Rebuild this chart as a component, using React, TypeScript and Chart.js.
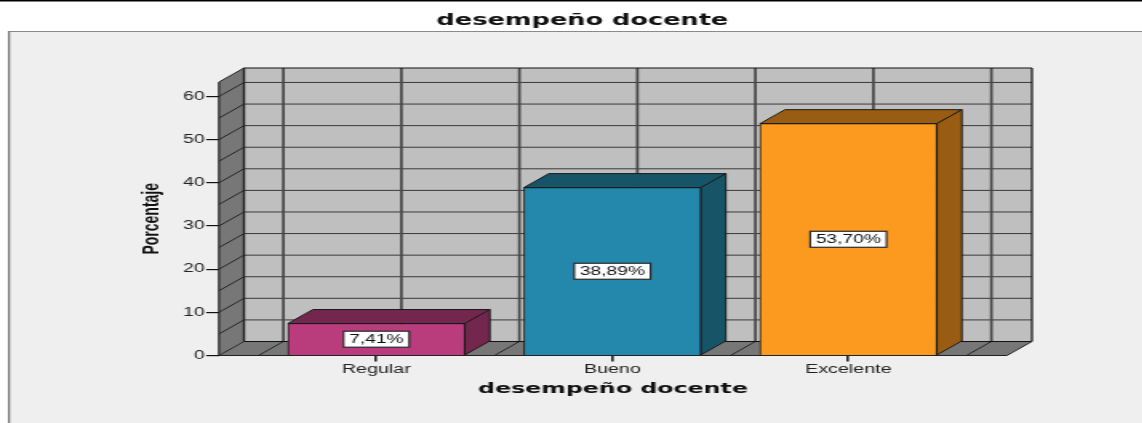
import React, { useEffect, useRef } from "react";
import { Chart, registerables } from "chart.js";

Chart.register(...registerables);

const categories = ["Regular", "Bueno", "Excelente"];
const percentages = [7.41, 38.89, 53.7];
const percentLabels = ["7,41%", "38,89%", "53,70%"];
const yTicks = [0, 10, 20, 30, 40, 50, 60];
const minorYLines = [0, 5, 10, 15, 20, 25, 30, 35, 40, 45, 50, 55, 60];
const xGridLines = [-0.5, 0, 0.5, 1, 1.5, 2, 2.5];
const frontColors = ["#b93d7c", "#2488ad", "#fb9a1e"];
const shadeColors = ["#73274f", "#165468", "#985c12"];
const titleText = "desempeño docente";

// The reference is a picture stretched sideways, so the canvas is drawn narrow and widened.
const STRETCH = 1.6;
const DEPTH_X = 25 / STRETCH;
const DEPTH_Y = 14;

function poly(ctx: CanvasRenderingContext2D, pts: number[][], fill: string | null, stroke: string | null, lw = 1) {
  ctx.beginPath();
  pts.forEach((p, i) => (i ? ctx.lineTo(p[0], p[1]) : ctx.moveTo(p[0], p[1])));
  ctx.closePath();
  if (fill) {
    ctx.fillStyle = fill;
    ctx.fill();
  }
  if (stroke) {
    ctx.strokeStyle = stroke;
    ctx.lineWidth = lw;
    ctx.stroke();
  }
}

function line(ctx: CanvasRenderingContext2D, x1: number, y1: number, x2: number, y2: number, color: string, lw: number) {
  ctx.beginPath();
  ctx.moveTo(x1, y1);
  ctx.lineTo(x2, y2);
  ctx.strokeStyle = color;
  ctx.lineWidth = lw;
  ctx.stroke();
}

const panelPlugin = {
  id: "panel",
  beforeDraw(chart: any) {
    const ctx = chart.ctx as CanvasRenderingContext2D;
    const { width, height } = chart;
    ctx.save();
    ctx.fillStyle = "#ffffff";
    ctx.fillRect(0, 0, width, height);
    ctx.fillStyle = "#000000";
    ctx.fillRect(0, 0, width, 1.5);
    ctx.fillStyle = "#efefef";
    ctx.fillRect(8 / STRETCH, 31, width, height);
    ctx.fillStyle = "#8a8a8a";
    ctx.fillRect(8 / STRETCH, 31, width, 1);
    ctx.fillStyle = "#777777";
    ctx.fillRect(8 / STRETCH, 31, 1.3, height);
    ctx.restore();
  },
};

const boxPlugin = {
  id: "box3d",
  beforeDatasetsDraw(chart: any) {
    const ctx = chart.ctx as CanvasRenderingContext2D;
    const x = chart.scales.x;
    const y = chart.scales.y;
    const l = x.left, r = x.right, t = y.top, b = y.bottom;
    const dx = DEPTH_X, dy = DEPTH_Y;
    ctx.save();
    // back wall
    poly(ctx, [[l + dx, t - dy], [r + dx, t - dy], [r + dx, b - dy], [l + dx, b - dy]], "#bfbfbf", null);
    // side wall and floor
    poly(ctx, [[l, b], [l + dx, b - dy], [l + dx, t - dy], [l, t]], "#777777", null);
    poly(ctx, [[l, b], [l + dx, b - dy], [r + dx, b - dy], [r, b]], "#777777", null);
    // gridlines on the walls
    minorYLines.forEach((v) => {
      const py = y.getPixelForValue(v);
      if (v > 0) line(ctx, l + dx, py - dy, r + dx, py - dy, "#3a3a3a", 1);
      if (v > 0) line(ctx, l, py, l + dx, py - dy, "#222222", 1);
    });
    xGridLines.forEach((v) => {
      const px = x.getPixelForValue(v);
      line(ctx, px + dx, t - dy, px + dx, b - dy, "#484848", 1.7);
      line(ctx, px, b, px + dx, b - dy, "#222222", 1);
    });
    // outlines
    line(ctx, l + dx, t - dy, r + dx, t - dy, "#111111", 1);
    line(ctx, r + dx, t - dy, r + dx, b - dy, "#111111", 1.2);
    line(ctx, l + dx, t - dy, l + dx, b - dy, "#222222", 1.4);
    line(ctx, l + dx, b - dy, r + dx, b - dy, "#111111", 1);
    line(ctx, l, b, l, t, "#222222", 1.2);
    line(ctx, l, t, l + dx, t - dy, "#222222", 1);
    line(ctx, l, b, l + dx, b - dy, "#222222", 1);
    line(ctx, r, b, r + dx, b - dy, "#222222", 1);
    line(ctx, l, b, r, b, "#222222", 1);
    // bar depth faces
    chart.getDatasetMeta(0).data.forEach((bar: any, i: number) => {
      const half = bar.width / 2;
      const x0 = bar.x - half, x1 = bar.x + half;
      const top = bar.y, base = bar.base;
      const shade = shadeColors[i];
      poly(ctx, [[x0, top], [x0 + dx, top - dy], [x1 + dx, top - dy], [x1, top]], shade, "#1a1a1a", 1);
      poly(ctx, [[x1, top], [x1 + dx, top - dy], [x1 + dx, base - dy], [x1, base]], shade, "#1a1a1a", 1);
    });
    ctx.restore();
  },
  afterDatasetsDraw(chart: any) {
    const ctx = chart.ctx as CanvasRenderingContext2D;
    ctx.save();
    ctx.font = "12px 'Liberation Sans'";
    ctx.textAlign = "center";
    ctx.textBaseline = "middle";
    chart.getDatasetMeta(0).data.forEach((bar: any, i: number) => {
      const cy = (bar.y + bar.base) / 2;
      const w = ctx.measureText(percentLabels[i]).width + 7;
      const h = 16;
      ctx.fillStyle = "#ffffff";
      ctx.fillRect(bar.x - w / 2, cy - h / 2, w, h);
      ctx.strokeStyle = "#2a2a2a";
      ctx.lineWidth = 1.2;
      ctx.strokeRect(bar.x - w / 2, cy - h / 2, w, h);
      ctx.fillStyle = "#111111";
      ctx.fillText(percentLabels[i], bar.x, cy + 0.5);
    });
    ctx.restore();
  },
};

export default function App() {
  const ref = useRef<HTMLCanvasElement>(null);
  useEffect(() => {
    if (!ref.current) return;
    const chart = new Chart(ref.current, {
      type: "bar",
      data: {
        datasets: [
          {
            data: percentages.map((v, i) => ({ x: i, y: v })),
            backgroundColor: frontColors,
            borderColor: "#1a1a1a",
            borderWidth: 1,
            barThickness: 177 / STRETCH,
            clip: false,
            yAxisID: "y",
          } as any,
        ],
      },
      options: {
        animation: false,
        responsive: false,
        devicePixelRatio: 1,
        layout: { padding: 0 },
        plugins: {
          legend: { display: false },
          tooltip: { enabled: false },
          title: {
            display: true,
            text: titleText,
            color: "#111111",
            font: { family: "'DejaVu Sans'", size: 16, weight: "bold", lineHeight: 1.2 },
            padding: { top: 11, bottom: 51.8 },
          },
        },
        scales: {
          x: {
            type: "linear",
            offset: false,
            min: -0.667,
            max: 2.672,
            afterBuildTicks: (s: any) => {
              s.ticks = categories.map((_, i) => ({ value: i }));
            },
            afterFit: (s: any) => {
              s.height = 67.5;
            },
            grid: { offset: false, drawOnChartArea: false, drawTicks: true, tickLength: 6, color: "#222222", lineWidth: 1.6 },
            border: { display: false },
            ticks: {
              autoSkip: false,
              maxRotation: 0,
              padding: 1,
              color: "#222222",
              font: { family: "'Liberation Sans'", size: 12.3 },
              callback: (v: any) => categories[v as number],
            },
            title: {
              display: true,
              text: titleText,
              color: "#111111",
              font: { family: "'DejaVu Sans'", size: 14.8, weight: "bold", lineHeight: 1.2 },
              padding: { top: 0, bottom: 24.6 },
            },
          },
          y: {
            type: "linear",
            min: 0,
            max: 63.35,
            afterBuildTicks: (s: any) => {
              s.ticks = yTicks.map((v) => ({ value: v }));
            },
            afterFit: (s: any) => {
              s.width = 219 / STRETCH;
            },
            grid: { drawOnChartArea: false, drawTicks: true, tickLength: 8, color: "#111111", lineWidth: 1.2 },
            border: { display: false },
            ticks: {
              padding: 1,
              color: "#222222",
              font: { family: "'Liberation Sans'", size: 12 },
            },
            title: {
              display: true,
              text: "Porcentaje",
              color: "#111111",
              font: { family: "'Liberation Sans'", size: 14, weight: "bold", lineHeight: 1.2 },
              padding: { top: 86.8, bottom: 0 },
            },
          },
          yRight: {
            type: "linear",
            position: "right",
            min: 0,
            max: 1,
            afterBuildTicks: (s: any) => {
              s.ticks = [];
            },
            afterFit: (s: any) => {
              s.width = 728 - 1007 / STRETCH;
            },
            grid: { display: false },
            border: { display: false },
            ticks: { display: false },
          },
        },
      } as any,
      plugins: [panelPlugin, boxPlugin],
    });
    return () => chart.destroy();
  }, []);
  return (
    <div style={{ position: "fixed", left: 0, top: 0, width: 1142, height: 423, overflow: "hidden" }}>
      <div style={{ width: 728, height: 423, transform: `scale(${STRETCH},1)`, transformOrigin: "0 0" }}>
        <canvas ref={ref} width={728} height={423} style={{ display: "block" }} />
      </div>
    </div>
  );
}
